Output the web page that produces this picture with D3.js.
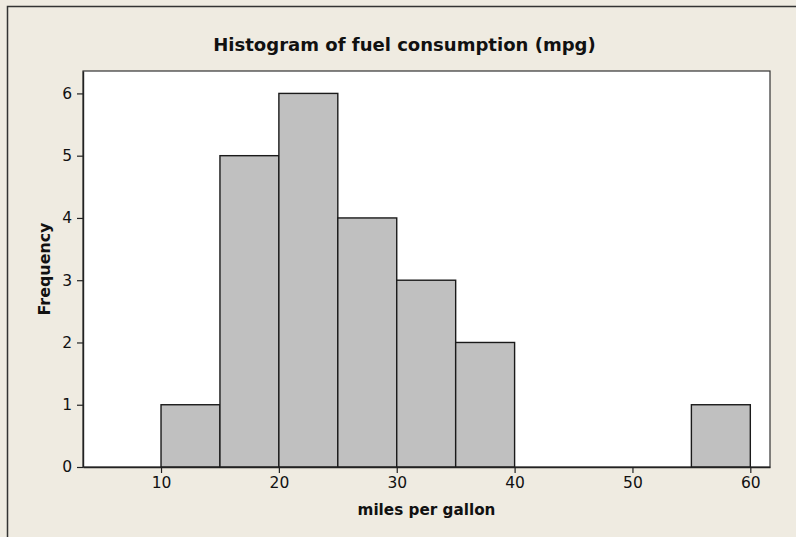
<!DOCTYPE html>
<html>
<head>
<meta charset="utf-8">
<script src="https://cdn.jsdelivr.net/npm/d3@7"></script>
<style>
  body { margin: 0; background: #efebe1; }
  svg { display: block; }
</style>
</head>
<body>
<svg id="chart"></svg>
<script>
// bins of width 5 (mpg) and counts
const binStarts = [5, 10, 15, 20, 25, 30, 35, 40, 45, 50, 55];
const binWidth = 5;
const counts = [0, 1, 5, 6, 4, 3, 2, 0, 0, 0, 1];
const xTicks = [10, 20, 30, 40, 50, 60];
const yTicks = [0, 1, 2, 3, 4, 5, 6];

const width = 796;
const height = 537;
const plot = { left: 83, top: 71, right: 770, bottom: 467 };
const font = 'Tahoma, "DejaVu Sans", Verdana, sans-serif';

const svg = d3.select('#chart').attr('width', width).attr('height', height);

// beige figure background with outer frame (runs off right and bottom)
svg.append('rect')
  .attr('x', 0).attr('y', 0).attr('width', width).attr('height', height)
  .attr('fill', '#efebe1');
svg.append('rect')
  .attr('x', 7.5).attr('y', 6.5).attr('width', width + 20).attr('height', height + 20)
  .attr('fill', 'none').attr('stroke', '#333').attr('stroke-width', 1.5);

const x = d3.scaleLinear().domain([3.38, 61.67]).range([plot.left, plot.right]);
const y = d3.scaleLinear().domain([0, 6.36]).range([plot.bottom, plot.top]);

// white data region
svg.append('rect')
  .attr('x', plot.left).attr('y', plot.top)
  .attr('width', plot.right - plot.left).attr('height', plot.bottom - plot.top)
  .attr('fill', '#fff').attr('stroke', '#333').attr('stroke-width', 1.2);

const bins = binStarts.map((s, i) => ({ x0: s, x1: s + binWidth, n: counts[i] }));

svg.append('g')
  .selectAll('rect')
  .data(bins)
  .join('rect')
  .attr('x', d => x(d.x0))
  .attr('y', d => y(d.n))
  .attr('width', d => x(d.x1) - x(d.x0))
  .attr('height', d => y(0) - y(d.n))
  .attr('fill', '#c0c0c0')
  .attr('stroke', '#1a1a1a')
  .attr('stroke-width', 1.4);

// axes
const xAxis = svg.append('g')
  .attr('transform', `translate(0,${plot.bottom})`)
  .call(d3.axisBottom(x).tickValues(xTicks).tickFormat(d3.format('d'))
    .tickSizeInner(6).tickSizeOuter(0).tickPadding(4));
const yAxis = svg.append('g')
  .attr('transform', `translate(${plot.left},0)`)
  .call(d3.axisLeft(y).tickValues(yTicks).tickFormat(d3.format('d'))
    .tickSizeInner(6).tickSizeOuter(0).tickPadding(5));

[xAxis, yAxis].forEach(a => {
  a.select('.domain').attr('stroke', '#222').attr('stroke-width', 1.4);
  a.selectAll('.tick line').attr('stroke', '#222').attr('stroke-width', 1.2);
  a.selectAll('.tick text')
    .attr('fill', '#111')
    .style('font-family', font)
    .style('font-size', '15.5px');
});

// fit text to a measured width in the reference
function fit(sel, target) {
  const w = sel.node().getComputedTextLength();
  const fs = parseFloat(sel.style('font-size'));
  sel.style('font-size', (fs * target / w).toFixed(2) + 'px');
}

const title = svg.append('text')
  .attr('x', 404.5).attr('y', 51)
  .attr('text-anchor', 'middle')
  .style('font-family', font).style('font-weight', 'bold').style('font-size', '17px')
  .attr('fill', '#111')
  .text('Histogram of fuel consumption (mpg)');
fit(title, 383);

const xLabel = svg.append('text')
  .attr('x', (plot.left + plot.right) / 2).attr('y', 515)
  .attr('text-anchor', 'middle')
  .style('font-family', font).style('font-weight', 'bold').style('font-size', '15px')
  .attr('fill', '#111')
  .text('miles per gallon');
fit(xLabel, 138);

const yLabel = svg.append('text')
  .attr('transform', `translate(50,${(plot.top + plot.bottom) / 2}) rotate(-90)`)
  .attr('text-anchor', 'middle')
  .style('font-family', font).style('font-weight', 'bold').style('font-size', '15px')
  .attr('fill', '#111')
  .text('Frequency');
fit(yLabel, 93);
</script>
</body>
</html>
